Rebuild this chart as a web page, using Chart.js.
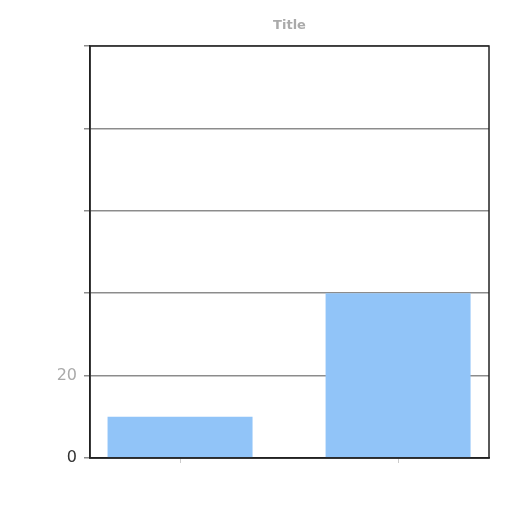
<!DOCTYPE html>
<html>
<head>
<meta charset="utf-8">
<script src="https://cdn.jsdelivr.net/npm/chart.js@4/dist/chart.umd.min.js"></script>
<style>
  html, body { margin: 0; padding: 0; background: #fff; }
  #wrap { width: 512px; height: 512px; }
</style>
</head>
<body>
<div id="wrap"><canvas id="myChart" width="512" height="512"></canvas></div>
<script>
// values
const categories = ['', ''];
const values = [10, 40];
const shownTicks = [0, 20];

// bars sit at positions 0 and 1 on a linear x axis
const points = values.map((v, i) => ({ x: i, y: v }));

// draws the box round the plot area
const boxPlugin = {
  id: 'box',
  afterDraw(chart) {
    const a = chart.chartArea;
    const ctx = chart.ctx;
    ctx.save();
    ctx.strokeStyle = '#222';
    ctx.lineWidth = 1.5;
    ctx.strokeRect(a.left, a.top, a.right - a.left, a.bottom - a.top);
    ctx.restore();
  }
};

const ctx = document.getElementById('myChart').getContext('2d');
const myChart = new Chart(ctx, {
  type: 'bar',
  data: {
    datasets: [{
      label: 'Series',
      data: points,
      backgroundColor: 'rgb(145, 196, 248)',
      borderWidth: 0,
      categoryPercentage: 1,
      barPercentage: 0.665
    }]
  },
  options: {
    responsive: false,
    animation: false,
    layout: { padding: { left: 0, right: 23, top: 0, bottom: 0 } },
    plugins: {
      legend: { display: false },
      tooltip: { enabled: false },
      title: {
        display: true,
        fullSize: false,
        text: 'Title',
        color: '#aaa',
        font: { family: 'DejaVu Sans', size: 13 },
        padding: { top: 18, bottom: 12.4 }
      }
    },
    scales: {
      x: {
        type: 'linear',
        offset: false,
        min: -0.413,
        max: 1.417,
        grid: { offset: false, drawOnChartArea: false, color: '#ccc', tickLength: 5 },
        border: { color: '#222', width: 1.5 },
        ticks: {
          stepSize: 1,
          includeBounds: false,
          color: 'rgba(0,0,0,0)',
          callback: (v) => categories[v] !== undefined ? categories[v] : null
        },
        afterFit(axis) { axis.height = 54; }
      },
      y: {
        min: 0,
        max: 100,
        ticks: {
          stepSize: 20,
          padding: 7,
          color: (c) => c.tick.value === 0 ? '#333' : '#aaa',
          font: { family: 'DejaVu Sans', size: 16 },
          callback: (v) => shownTicks.includes(v) ? v : ''
        },
        grid: { color: 'rgba(0,0,0,0.45)', lineWidth: 1.5, tickLength: 6 },
        border: { color: '#222', width: 1.5 },
        afterFit(axis) { axis.width = 90; }
      }
    }
  },
  plugins: [boxPlugin]
});
</script>
</body>
</html>
